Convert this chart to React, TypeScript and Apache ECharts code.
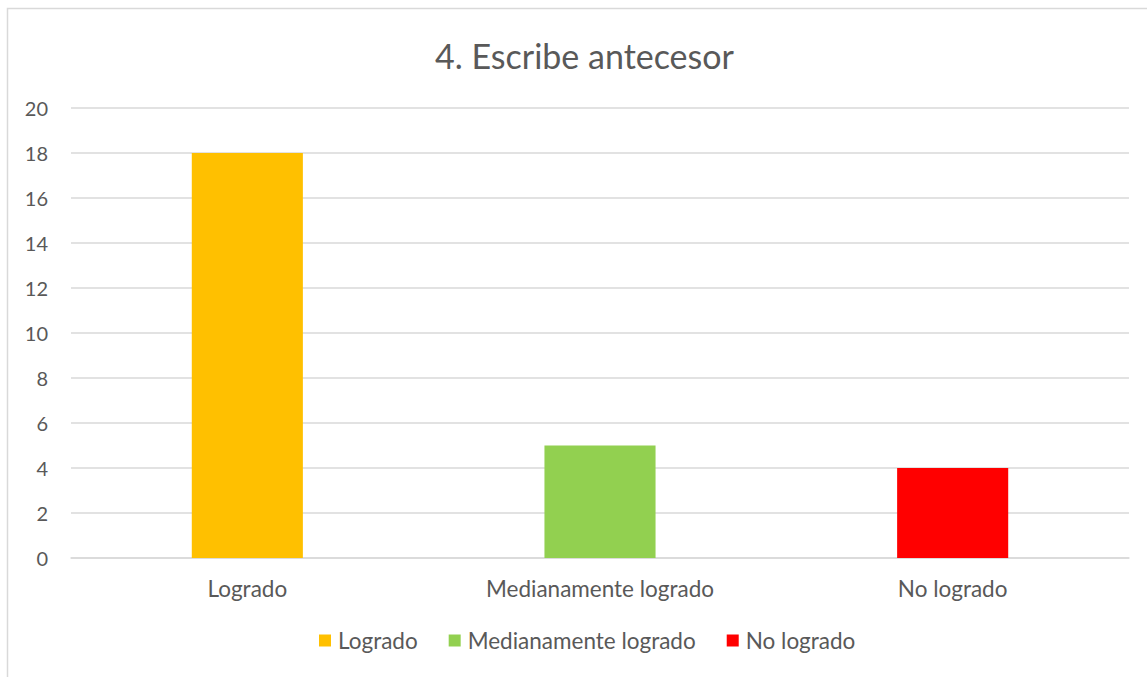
import React, { useEffect, useRef } from "react";
import * as echarts from "echarts";

const categories = ["Logrado", "Medianamente logrado", "No logrado"];
const values = [18, 5, 4];
const colors = ["#FFC000", "#92D050", "#FF0000"];
const yTicks = { min: 0, max: 20, interval: 2 };
const title = "4. Escribe antecesor";

export default function App() {
  const ref = useRef<HTMLDivElement>(null);
  useEffect(() => {
    if (!ref.current) return;
    const chart = echarts.init(ref.current, null, { renderer: "svg" });
    const font = "Lato";
    chart.setOption({
      animation: false,
      backgroundColor: "#ffffff",
      textStyle: { fontFamily: font },
      title: {
        text: title,
        left: 430,
        top: 33,
        textStyle: { fontSize: 34, fontWeight: "normal", color: "#595959", fontFamily: font },
      },
      graphic: [
        {
          type: "rect",
          shape: { x: 7.5, y: 8.5, width: 1200, height: 720 },
          style: { fill: "none", stroke: "#D9D9D9", lineWidth: 1.5 },
          silent: true,
        },
      ],
      legend: {
        bottom: 20,
        left: 314,
        itemWidth: 12,
        itemHeight: 12,
        itemGap: 31,
        icon: "rect",
        textStyle: { fontSize: 22.5, color: "#595959", fontFamily: font, padding: [0, 0, 0, 2] },
        data: categories,
      },
      grid: { left: 71, right: 18, top: 108, bottom: 119, containLabel: false },
      xAxis: {
        type: "category",
        data: categories,
        axisLine: { show: true, lineStyle: { color: "#D9D9D9", width: 1.5 } },
        axisTick: { show: false },
        axisLabel: { color: "#595959", fontSize: 22.5, margin: 19, fontFamily: font },
      },
      yAxis: {
        type: "value",
        min: yTicks.min,
        max: yTicks.max,
        interval: yTicks.interval,
        axisLine: { show: false },
        axisTick: { show: false },
        axisLabel: { color: "#595959", fontSize: 20, margin: 23, fontFamily: font },
        splitLine: { lineStyle: { color: "#D9D9D9", width: 1.5 } },
      },
      series: categories.map((c, i) => ({
        name: c,
        type: "bar",
        stack: "all",
        barWidth: "31.5%",
        itemStyle: { color: colors[i] },
        data: categories.map((_, j) => (j === i ? values[i] : null)),
      })),
    });
    return () => chart.dispose();
  }, []);
  return (
    <div
      ref={ref}
      style={{ position: "absolute", left: 0, top: 0, width: 1147, height: 677 }}
    />
  );
}
